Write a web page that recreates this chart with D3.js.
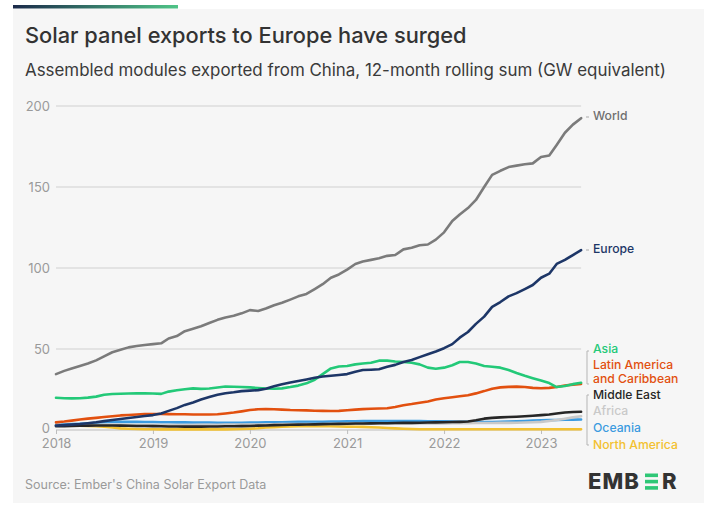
<!DOCTYPE html>
<html><head><meta charset="utf-8">
<script src="https://cdn.jsdelivr.net/npm/d3@7"></script>
<style>
body{margin:0;background:#fff;}
svg{display:block;font-family:Inter,"Noto Sans",sans-serif;}
</style></head>
<body>
<svg id="chart" width="719" height="516"></svg>
<script>
// ---- DATA (monthly, Jan 2018 .. Jun 2023, GW, 12-month rolling sum) ----
const startYear = 2018, startMonth = 0;
const world = [34.5,36.5,38,39.5,41,43,45.5,48,49.5,51,51.8,52.5,
  53,53.5,56.5,58,61,62.5,64,66,68,69.5,70.5,72,
  74,73.5,75,77,78.5,80.5,82.5,84,87,90,94,96,
  99,102.5,104,105,106,107.5,108,111.5,112.5,114,114.5,117.5,
  122,129,133,137,142,150,157.5,160,162.3,163.2,164,164.6,
  168.5,169.5,176,183.5,188.5,192.5];
const europe = [2.7,3,3.3,3.7,4.2,4.8,5.5,6.2,6.8,7.4,8,8.6,
  9.2,10.2,11.8,13.5,15.5,17,18.8,20.3,21.7,22.7,23.3,24,
  24.3,24.6,25.5,27,28.3,29.3,30.3,31.2,32.2,33,33.5,34,
  34.5,36,37,37.2,37.5,39,40.2,42,43.2,45,46.8,48.5,
  50.5,53,57,60.5,65.5,70,76,79,82.5,84.5,87,89.5,
  94,96.5,102.5,105,108,111];
const asia = [19.9,19.6,19.5,19.6,20,20.6,21.8,22.2,22.4,22.5,22.6,22.7,
  22.5,22.3,23.7,24.5,25.2,25.7,25.4,25.6,26.2,26.8,26.7,26.5,
  26.3,25.9,25.6,25.5,25.7,26.5,27.4,28.8,31,34.5,38,39.2,
  39.5,40.5,41,41.5,42.8,42.8,42.3,42,41.5,40.5,38.5,37.8,
  38.5,40,42,42,41,39.5,39,38.5,37,35.2,33.5,32,
  30.5,29,26.5,27.2,28.3,29.2];
const latam = [4.7,5.2,5.8,6.5,7,7.5,8,8.5,9,9.3,9.6,9.8,
  9.9,9.9,9.8,9.7,9.7,9.6,9.6,9.6,9.7,10.2,10.8,11.5,
  12.3,12.8,12.9,12.8,12.6,12.3,12.2,12.1,11.9,11.8,11.7,11.8,
  12.2,12.6,12.9,13.1,13.3,13.4,14.2,15.3,16,16.8,17.6,18.8,
  19.6,20.2,20.8,21.5,22.6,24,25.5,26.3,26.6,26.8,26.5,26,
  25.8,26,26.5,27.5,28,28.4];
const middleEast = [2.3,2.4,2.5,2.6,2.7,2.8,2.8,2.8,2.7,2.6,2.5,2.5,
  2.4,2.3,2.2,2.2,2.1,2.1,2.1,2.2,2.2,2.3,2.3,2.4,
  2.5,2.7,2.8,3.0,3.1,3.2,3.3,3.4,3.5,3.6,3.7,3.8,
  3.9,4.0,4.0,4.1,4.2,4.2,4.3,4.4,4.4,4.5,4.6,4.7,
  4.8,4.9,5.0,5.2,6.0,7.0,7.5,7.8,8.0,8.2,8.5,8.8,
  9.2,9.6,10.2,10.8,11.1,11.3];
const africa = [2.6,2.7,2.8,2.9,3.0,3.1,3.2,3.2,3.2,3.1,3.1,3.0,
  3.0,3.0,3.0,3.1,3.1,3.1,3.2,3.2,3.2,3.3,3.3,3.3,
  3.4,3.4,3.5,3.5,3.6,3.6,3.6,3.7,3.7,3.7,3.8,3.8,
  3.8,3.9,3.9,3.9,4.0,4.0,4.0,4.0,4.1,4.1,4.1,4.1,
  4.1,4.2,4.2,4.2,4.3,4.3,4.3,4.4,4.4,4.5,4.6,4.8,
  5.0,5.6,6.2,7.0,7.8,8.5];
const oceania = [3.0,3.3,3.6,3.9,4.2,4.5,4.8,5.0,5.0,5.0,5.0,4.9,
  4.9,4.8,4.8,4.7,4.7,4.6,4.6,4.6,4.5,4.5,4.5,4.5,
  4.6,4.6,4.7,4.8,4.8,4.9,5.0,5.0,5.1,5.1,5.2,5.2,
  5.3,5.4,5.5,5.5,5.6,5.6,5.6,5.5,5.5,5.5,5.4,5.3,
  5.3,5.2,5.1,5.0,4.9,4.9,4.9,5.0,5.2,5.4,5.6,5.8,
  6.0,6.1,6.2,6.3,6.4,6.5];
const northAmerica = [2.8,2.8,2.7,2.6,2.5,2.3,2.0,1.5,1.0,0.8,0.6,0.5,
  0.5,0.4,0.4,0.4,0.4,0.4,0.4,0.4,0.4,0.4,0.5,0.6,
  0.8,1.1,1.5,1.8,2.0,2.2,2.3,2.4,2.4,2.4,2.3,2.2,
  2.1,2.0,1.9,1.7,1.5,1.2,1.0,0.8,0.6,0.5,0.5,0.5,
  0.5,0.5,0.5,0.5,0.5,0.5,0.5,0.5,0.5,0.5,0.5,0.5,
  0.5,0.5,0.5,0.5,0.5,0.5];
const yTicks = [0,50,100,150,200];
const xTickYears = [2018,2019,2020,2021,2022,2023];

const seriesNames = ["North America","Oceania","Africa","Middle East","Latin America and Caribbean","Asia","Europe","World"];
const seriesData = [northAmerica,oceania,africa,middleEast,latam,asia,europe,world];
const seriesColors = ["#f3c130","#3b9be0","#c9c9c9","#262626","#e2500f","#23c978","#1d3667","#7b7b7b"];

// ---- CHART ----
const svg = d3.select("#chart");
// card background
svg.append("rect").attr("x",13).attr("y",9).attr("width",691).attr("height",494).attr("fill","#f6f6f6");
const grad = svg.append("defs").append("linearGradient").attr("id","tg").attr("x1","0").attr("x2","1");
grad.append("stop").attr("offset","0").attr("stop-color","#1b2a4a");
grad.append("stop").attr("offset","1").attr("stop-color","#4fc487");
svg.append("rect").attr("x",13).attr("y",5).attr("width",165).attr("height",3.5).attr("fill","url(#tg)");

svg.append("text").attr("x",25).attr("y",43).text("Solar panel exports to Europe have surged")
  .attr("font-size",21.8).attr("font-weight",500).attr("fill","#333");
svg.append("text").attr("x",25).attr("y",76).text("Assembled modules exported from China, 12-month rolling sum (GW equivalent)")
  .attr("font-size",16.9).attr("fill","#3a3a3a");

const x = d3.scaleTime().domain([new Date(2018,0,1), new Date(2023,0,1)]).range([56,541]);
const y = d3.scaleLinear().domain([0,200]).range([430,106]);
const xEnd = x(new Date(startYear, startMonth + world.length - 1, 1));

// gridlines
svg.append("g").selectAll("line").data(yTicks.filter(d=>d>0)).join("line")
  .attr("x1",56).attr("x2",xEnd).attr("y1",d=>y(d)).attr("y2",d=>y(d))
  .attr("stroke","#dcdcdc").attr("stroke-width",1.5);
// y axis labels
const yAxis = d3.axisLeft(y).tickValues(yTicks).tickSize(0).tickPadding(6);
const ya = svg.append("g").attr("transform","translate(56,0)").call(yAxis);
ya.select(".domain").remove();
ya.selectAll("text").attr("font-size",13).attr("fill","#9a9a9a").attr("font-family","Inter,sans-serif");
ya.selectAll(".tick").filter(d=>d===0).select("text").attr("dy","0.2em");

// x axis
const xAxis = d3.axisBottom(x).tickValues(xTickYears.map(yr=>new Date(yr,0,1))).tickFormat(d3.timeFormat("%Y")).tickSize(4).tickPadding(5);
const xa = svg.append("g").attr("transform","translate(0,430)").call(xAxis);
xa.select(".domain").attr("d",`M56,0H${xEnd}`).attr("stroke","#cfcfcf").attr("stroke-width",1.5);
xa.selectAll(".tick line").attr("stroke","#bdbdbd");
xa.selectAll("text").attr("font-size",13).attr("fill","#9a9a9a").attr("font-family","Inter,sans-serif");

// lines
const line = d3.line().x((d,i)=>x(new Date(startYear,startMonth+i,1))).y(d=>y(d));
svg.append("g").selectAll("path").data(seriesData).join("path")
  .attr("d",d=>line(d)).attr("fill","none")
  .attr("stroke",(d,i)=>seriesColors[i]).attr("stroke-width",2.6)
  .attr("stroke-linejoin","round").attr("stroke-linecap","round");

// labels
const labelSpec = [
  {lines:["World"], y:117, c:"#6f6f6f", dash:true},
  {lines:["Europe"], y:250, c:"#1d3667", dash:true},
  {lines:["Asia"], y:350, c:"#23c978"},
  {lines:["Latin America","and Caribbean"], y:366, c:"#e2500f"},
  {lines:["Middle East"], y:396, c:"#262626"},
  {lines:["Africa"], y:412, c:"#c9c9c9"},
  {lines:["Oceania"], y:429, c:"#3b9be0"},
  {lines:["North America"], y:446, c:"#f3c130"}
];
const lab = svg.append("g").attr("font-size",12.2).attr("font-weight",500);
labelSpec.forEach(s=>{
  s.lines.forEach((l,k)=>lab.append("text").attr("x",593).attr("y",s.y + k*14)
    .attr("fill",s.c).attr("dominant-baseline","middle").text(l));
  if(s.dash){
    svg.append("line").attr("x1",586).attr("x2",589).attr("y1",s.y).attr("y2",s.y).attr("stroke","#aaa").attr("stroke-width",1);
  }
});
// leader brackets
const br = svg.append("g").attr("stroke","#b5b5b5").attr("stroke-width",1).attr("fill","none");
br.append("path").attr("d","M589,351H587V384H589");
br.append("path").attr("d","M589,395H587V445H589");

// source
svg.append("text").attr("x",25).attr("y",489).text("Source: Ember's China Solar Export Data")
  .attr("font-size",12.5).attr("fill","#9a9a9a");

// logo
const logo = svg.append("g");
logo.append("text").attr("x",588).attr("y",489).text("EMB").attr("font-size",22).attr("font-weight",800)
  .attr("fill","#333").attr("font-family","Inter,sans-serif").attr("letter-spacing",1);
[0,1,2].forEach(k=>logo.append("rect").attr("x",645).attr("y",473.5+k*6.3).attr("width",13).attr("height",3.6).attr("fill","#2ec776"));
logo.append("text").attr("x",662).attr("y",489).text("R").attr("font-size",22).attr("font-weight",800)
  .attr("fill","#333").attr("font-family","Inter,sans-serif");
</script>
</body></html>
